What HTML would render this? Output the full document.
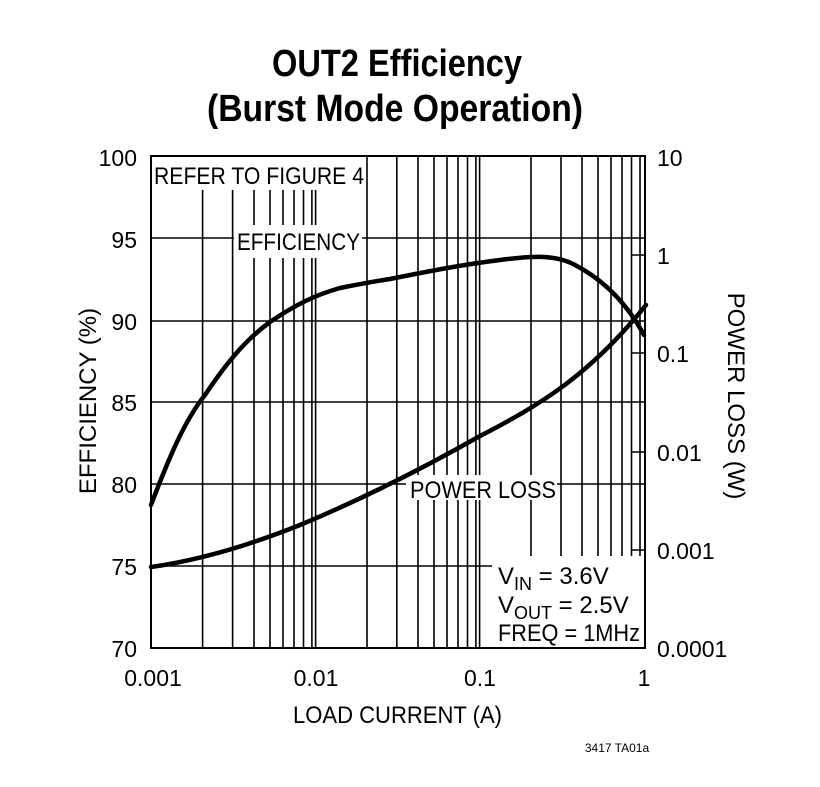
<!DOCTYPE html>
<html><head><style>
body{margin:0;background:#fff;}
svg text{font-family:"Liberation Sans",sans-serif;fill:#000;}
</style></head><body>
<svg width="820" height="782" viewBox="0 0 820 782" xmlns="http://www.w3.org/2000/svg">
<rect width="820" height="782" fill="#fff"/>
<text x="272" y="76" font-size="38" font-weight="bold" textLength="250" lengthAdjust="spacingAndGlyphs">OUT2 Efficiency</text>
<text x="207" y="121" font-size="38" font-weight="bold" textLength="376" lengthAdjust="spacingAndGlyphs">(Burst Mode Operation)</text>
<g stroke="#000" stroke-width="1.6" fill="none">
<line x1="151" y1="238" x2="234" y2="238"/><line x1="362" y1="238" x2="645" y2="238"/>
<line x1="151" y1="321" x2="645" y2="321"/>
<line x1="151" y1="402" x2="645" y2="402"/>
<line x1="151" y1="484" x2="406" y2="484"/><line x1="557" y1="484" x2="645" y2="484"/>
<line x1="151" y1="566" x2="492" y2="566"/>
<path d="
M202.6 190V648
M232.6 190V648
M254 190V225 M254 258V648 M270 190V225 M270 258V648 M283 190V225 M283 258V648 M294 190V225 M294 258V648 M303.5 190V225 M303.5 258V648 M311.9 190V225 M311.9 258V648
M315.6 190V225 M315.6 258V648
M367 157V648 M396.8 157V648 M418 157V475 M418 500V648 M434 157V475 M434 500V648 M447 157V475 M447 500V648 M458 157V475 M458 500V648 M467.5 157V475 M467.5 500V648 M475.9 157V475 M475.9 500V648
M479.6 157V475 M479.6 500V648
M531 157V475 M531 500V556 M561 157V556 M582 157V556 M598 157V556 M611 157V556 M622 157V556 M631.5 157V556 M640 157V556"/>
<path d="M632 255H645 M632 353H645 M632 452H645 M632 550H645"/>
<rect x="151" y="156" width="494" height="492" stroke-width="2"/>
</g>
<rect x="200" y="226" width="0" height="0" fill="#fff"/>
<g stroke="#000" stroke-width="4.5" fill="none" stroke-linecap="round">
<path d="M151 505 C170 455,185 420,205 395 C225 365,245 340,270 322 C295 305,315 295,340 288 C360 284,370 282,390 279 C430 271,460 265,500 260 C530 256,555 254,575 265 C600 278,625 300,644 335"/>
<path d="M151 567 C200 560,250 545,300 525 C360 500,420 470,480 436 C540 405,590 375,646 305"/>
</g>
<g font-size="24">
<text x="154" y="184" textLength="210" lengthAdjust="spacingAndGlyphs">REFER TO FIGURE 4</text>
<text x="237" y="250" textLength="123" lengthAdjust="spacingAndGlyphs">EFFICIENCY</text>
<text x="410" y="498" textLength="146" lengthAdjust="spacingAndGlyphs">POWER LOSS</text>
<text x="498" y="584">V<tspan font-size="18" dy="6">IN</tspan><tspan dy="-6"> = 3.6V</tspan></text>
<text x="498" y="613">V<tspan font-size="18" dy="6">OUT</tspan><tspan dy="-6"> = 2.5V</tspan></text>
<text x="498" y="641" textLength="142" lengthAdjust="spacingAndGlyphs">FREQ = 1MHz</text>
</g>
<g font-size="23" text-anchor="end">
<text x="137" y="166">100</text><text x="137" y="248">95</text><text x="137" y="330">90</text>
<text x="137" y="411">85</text><text x="137" y="493">80</text><text x="137" y="575">75</text><text x="137" y="657">70</text>
</g>
<g font-size="23">
<text x="657" y="166">10</text><text x="657" y="264">1</text><text x="657" y="362">0.1</text>
<text x="657" y="461">0.01</text><text x="657" y="559">0.001</text><text x="657" y="657">0.0001</text>
</g>
<g font-size="23" text-anchor="middle">
<text x="153" y="686">0.001</text><text x="316" y="686">0.01</text><text x="480" y="686">0.1</text><text x="644" y="686">1</text>
</g>
<text x="293" y="723" font-size="24" textLength="209" lengthAdjust="spacingAndGlyphs">LOAD CURRENT (A)</text>
<text font-size="24" text-anchor="middle" transform="translate(96 401) rotate(-90)">EFFICIENCY (%)</text>
<text font-size="24" text-anchor="middle" transform="translate(728 396) rotate(90)">POWER LOSS (W)</text>
<text x="617" y="752" font-size="12" text-anchor="middle">3417 TA01a</text>
</svg>
</body></html>
